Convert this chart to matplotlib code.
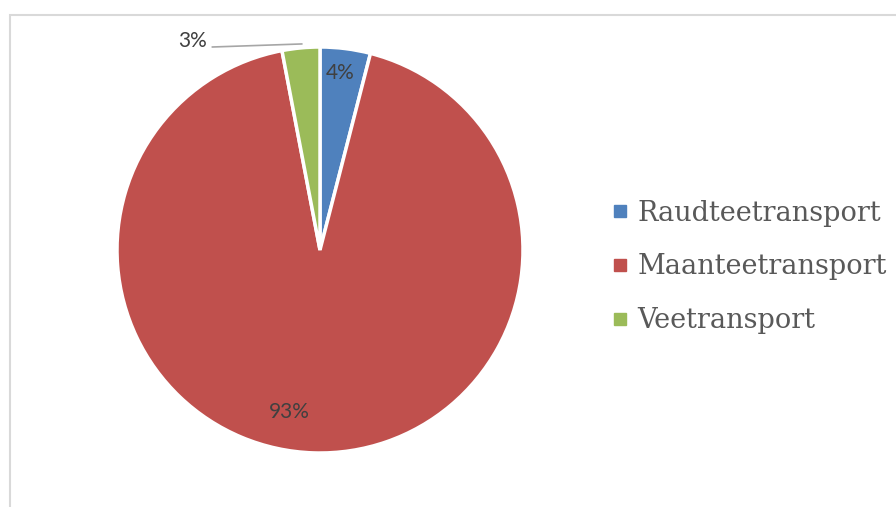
import matplotlib.pyplot as plt
from matplotlib.lines import Line2D
from matplotlib.patches import Rectangle

kategooriad = ["Raudteetransport", "Maanteetransport", "Veetransport"]
osakaal = [4, 93, 3]
varvid = ["#4f81bd", "#c0504d", "#9bbb59"]

fig = plt.figure(figsize=(8.96, 5.07), dpi=100)

# hall raam ümber diagrammi ala
fig.patches.append(Rectangle((10 / 896, -0.1), 2, 1.1 - 15 / 507,
                             transform=fig.transFigure, fill=False,
                             edgecolor="#d9d9d9", linewidth=1.5))

ax = fig.add_axes([(320 - 203) / 896, (507 - 453) / 507, 406 / 896, 406 / 507])
wedges, _ = ax.pie(osakaal, colors=varvid, startangle=90, counterclock=False,
                   wedgeprops=dict(edgecolor="white", linewidth=2.5))
ax.set_xlim(-1, 1)
ax.set_ylim(-1, 1)
ax.set_aspect("equal")

sildid = [f"{v}%" for v in osakaal]
tekst = dict(fontsize=15, color="#404040", family="Lato", ha="center", va="center")
ax.text(0.1, 0.87, sildid[0], **tekst)
ax.text(-0.15, -0.8, sildid[1], **tekst)
ax.text(-0.63, 1.03, sildid[2], clip_on=False, **tekst)
ax.plot([-0.53, -0.09], [1.00, 1.015], color="#a6a6a6", linewidth=1.2, clip_on=False)

kasitsad = [Line2D([], [], marker="s", linestyle="none", markersize=9,
                   markerfacecolor=c, markeredgecolor=c) for c in varvid]
leg = fig.legend(kasitsad, kategooriad, loc="center left",
                 bbox_to_anchor=(609 / 896, 1 - 267 / 507), frameon=False,
                 prop=dict(family="DejaVu Serif", size=19.5), labelcolor="#595959",
                 handletextpad=0.25, labelspacing=0.98, handlelength=0.8,
                 borderpad=0, borderaxespad=0)

fig.savefig("out.png", dpi=100, facecolor="white")
